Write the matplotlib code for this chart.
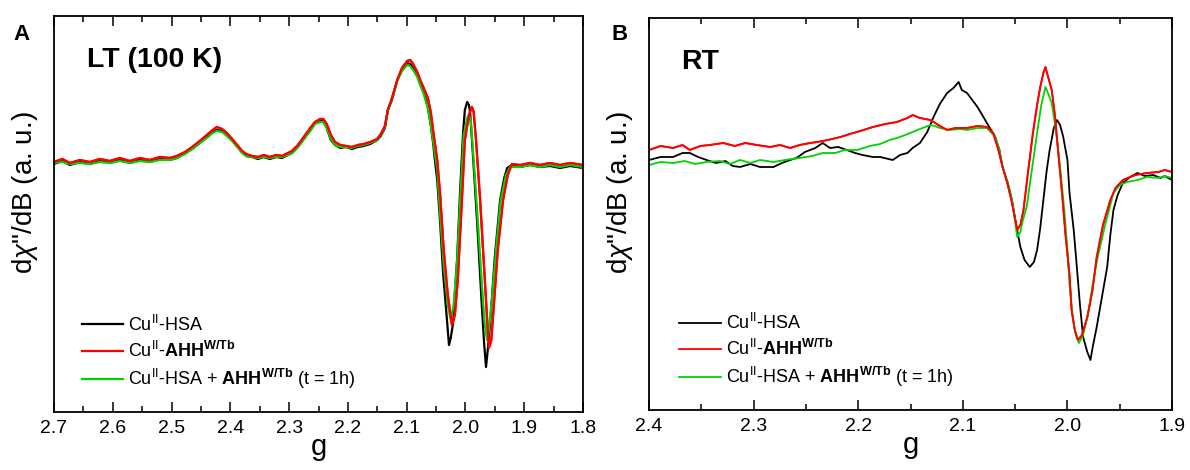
import matplotlib
matplotlib.use("Agg")
import matplotlib.pyplot as plt
from matplotlib.ticker import MultipleLocator

plt.rcParams["font.family"] = ["Liberation Sans", "DejaVu Sans"]
plt.rcParams["mathtext.fontset"] = "custom"
plt.rcParams["mathtext.rm"] = "Liberation Sans"
plt.rcParams["mathtext.it"] = "Liberation Sans:italic"
plt.rcParams["mathtext.bf"] = "Liberation Sans:bold"

# --- panel A: low temperature (100 K) -------------------------------------
lt_g_hsa = [2.700, 2.686, 2.673, 2.656, 2.639, 2.622, 2.605, 2.588, 2.571, 2.554, 2.537, 2.520, 2.503, 2.491,
            2.477, 2.465, 2.452, 2.438, 2.430, 2.423, 2.414, 2.406, 2.397, 2.387, 2.380, 2.373, 2.363, 2.353,
            2.343, 2.333, 2.322, 2.312, 2.302, 2.295, 2.285, 2.275, 2.264, 2.256, 2.247, 2.242, 2.236, 2.229,
            2.222, 2.213, 2.203, 2.193, 2.183, 2.173, 2.162, 2.150, 2.144, 2.137, 2.132, 2.125, 2.116, 2.108,
            2.099, 2.094, 2.089, 2.082, 2.077, 2.071, 2.064, 2.059, 2.055, 2.052, 2.048, 2.043, 2.038, 2.031,
            2.028, 2.025, 2.021, 2.014, 2.009, 2.004, 2.001, 1.997, 1.994, 1.992, 1.987, 1.980, 1.972, 1.968,
            1.965, 1.962, 1.958, 1.950, 1.941, 1.934, 1.929, 1.921, 1.907, 1.890, 1.873, 1.856, 1.839, 1.822, 1.800]
lt_hsa = [-1, 2, -2, 1, -1, 2, 0, 3, 0, 3, 1, 4, 3, 5,
          10, 14, 20, 27, 31, 33, 32, 29, 23, 16, 11, 7, 6, 4,
          6, 4, 6, 5, 8, 10, 16, 24, 33, 40, 42, 43, 35, 23,
          18, 15, 16, 14, 16, 17, 19, 23, 27, 35, 53, 63, 83, 93,
          100, 99, 95, 88, 80, 71, 56, 38, 20, 3, -17, -60, -110, -160,
          -182, -175, -160, -94, -27, 30, 53, 61, 58, 50, 6, -60, -144, -182,
          -204, -187, -160, -94, -37, -15, -5, -2, -4, -2, -4, -3, -5, -3, -5]

lt_g_ahh = [2.700, 2.686, 2.673, 2.656, 2.639, 2.622, 2.605, 2.588, 2.571, 2.554, 2.537, 2.520, 2.503, 2.491,
            2.477, 2.465, 2.452, 2.438, 2.430, 2.423, 2.414, 2.406, 2.397, 2.387, 2.380, 2.373, 2.363, 2.353,
            2.343, 2.333, 2.322, 2.312, 2.302, 2.295, 2.285, 2.275, 2.264, 2.256, 2.247, 2.242, 2.236, 2.229,
            2.222, 2.213, 2.203, 2.193, 2.183, 2.173, 2.162, 2.150, 2.144, 2.137, 2.132, 2.125, 2.116, 2.108,
            2.099, 2.094, 2.089, 2.082, 2.077, 2.071, 2.064, 2.059, 2.054, 2.048, 2.043, 2.037, 2.030, 2.023,
            2.018, 2.013, 2.006, 2.001, 1.994, 1.989, 1.986, 1.982, 1.975, 1.968, 1.963, 1.960, 1.956, 1.951,
            1.945, 1.936, 1.928, 1.921, 1.907, 1.890, 1.873, 1.856, 1.839, 1.822, 1.800]
lt_ahh = [1, 4, 0, 3, 1, 4, 2, 5, 2, 5, 3, 6, 5, 7,
          11, 16, 22, 29, 33, 36, 34, 30, 24, 17, 12, 9, 7, 6,
          8, 6, 8, 7, 10, 12, 18, 26, 35, 41, 44, 44, 39, 28,
          21, 18, 17, 16, 18, 19, 21, 24, 29, 37, 53, 65, 83, 95,
          102, 103, 99, 91, 83, 75, 65, 51, 28, 3, -32, -87, -132, -162,
          -152, -117, -37, 23, 48, 56, 51, 23, -37, -107, -157, -185, -177, -137,
          -87, -37, -12, -1, -2, 0, -2, 0, -2, 0, -2]

lt_g_mix = [2.700, 2.686, 2.673, 2.656, 2.639, 2.622, 2.605, 2.588, 2.571, 2.554, 2.537, 2.520, 2.503, 2.491,
            2.477, 2.465, 2.452, 2.438, 2.430, 2.423, 2.414, 2.406, 2.397, 2.387, 2.380, 2.373, 2.363, 2.353,
            2.343, 2.333, 2.322, 2.312, 2.302, 2.295, 2.285, 2.275, 2.264, 2.256, 2.247, 2.242, 2.236, 2.229,
            2.222, 2.213, 2.203, 2.193, 2.183, 2.173, 2.162, 2.150, 2.144, 2.137, 2.132, 2.125, 2.116, 2.108,
            2.099, 2.094, 2.089, 2.082, 2.077, 2.071, 2.064, 2.059, 2.054, 2.048, 2.043, 2.037, 2.030, 2.025,
            2.020, 2.014, 2.008, 2.003, 1.997, 1.994, 1.991, 1.986, 1.979, 1.972, 1.967, 1.963, 1.960, 1.955,
            1.948, 1.940, 1.931, 1.924, 1.907, 1.890, 1.873, 1.856, 1.839, 1.822, 1.800]
lt_mix = [0, 1, -1, 0, -1, 1, 0, 2, 0, 2, 1, 3, 3, 5,
          9, 14, 20, 26, 30, 32, 31, 27, 22, 15, 10, 7, 6, 5,
          6, 5, 6, 6, 8, 10, 16, 24, 32, 39, 41, 41, 35, 24,
          18, 16, 16, 15, 17, 18, 20, 23, 28, 36, 53, 64, 82, 92,
          98, 97, 93, 86, 78, 69, 55, 38, 18, -7, -52, -102, -142, -157,
          -142, -97, -27, 28, 45, 48, 43, 3, -57, -122, -162, -177, -167, -137,
          -87, -37, -12, -4, -4, -2, -4, -2, -4, -2, -4]

# --- panel B: room temperature ---------------------------------------------
rt_g_hsa = [2.400, 2.389, 2.377, 2.368, 2.361, 2.353, 2.345, 2.336, 2.327, 2.320, 2.313, 2.303, 2.294, 2.281,
            2.273, 2.265, 2.259, 2.251, 2.241, 2.234, 2.227, 2.219, 2.211, 2.203, 2.196, 2.186, 2.179, 2.167,
            2.160, 2.153, 2.148, 2.141, 2.134, 2.128, 2.122, 2.115, 2.109, 2.104, 2.101, 2.096, 2.091, 2.086,
            2.082, 2.077, 2.073, 2.069, 2.065, 2.062, 2.057, 2.053, 2.049, 2.045, 2.041, 2.036, 2.032, 2.029,
            2.026, 2.023, 2.020, 2.017, 2.013, 2.010, 2.007, 2.004, 2.000, 1.998, 1.994, 1.991, 1.988, 1.985,
            1.981, 1.978, 1.976, 1.972, 1.967, 1.962, 1.959, 1.956, 1.952, 1.947, 1.940, 1.933, 1.926, 1.918,
            1.911, 1.907, 1.900]
rt_hsa = [3, 6, 6, 10, 10, 6, 3, 0, 2, -3, -4, -1, -4, -4,
          0, 3, 5, 11, 15, 20, 15, 16, 13, 10, 8, 6, 6, 3,
          8, 10, 15, 20, 31, 46, 59, 70, 75, 81, 73, 70, 63, 56,
          49, 40, 33, 26, 13, -4, -20, -37, -62, -84, -97, -104, -99, -87,
          -65, -37, -9, 13, 35, 43, 38, 26, 3, -30, -67, -104, -142, -174,
          -189, -197, -185, -164, -134, -104, -72, -47, -32, -20, -14, -10, -13, -12,
          -15, -13, -17]

rt_g_ahh = [2.400, 2.389, 2.377, 2.368, 2.361, 2.351, 2.342, 2.329, 2.318, 2.308, 2.297, 2.284, 2.275, 2.265,
            2.256, 2.246, 2.239, 2.229, 2.217, 2.208, 2.198, 2.186, 2.174, 2.163, 2.153, 2.148, 2.141, 2.131,
            2.122, 2.115, 2.107, 2.096, 2.086, 2.077, 2.071, 2.066, 2.062, 2.057, 2.053, 2.048, 2.045, 2.042,
            2.038, 2.033, 2.029, 2.026, 2.023, 2.021, 2.019, 2.015, 2.012, 2.009, 2.005, 2.002, 1.998, 1.996,
            1.993, 1.990, 1.986, 1.981, 1.976, 1.972, 1.966, 1.959, 1.954, 1.947, 1.935, 1.924, 1.913, 1.907,
            1.900]
rt_ahh = [13, 17, 15, 18, 13, 17, 18, 20, 17, 20, 18, 16, 18, 15,
          18, 20, 21, 23, 26, 29, 32, 36, 39, 41, 45, 48, 45, 43,
          37, 33, 35, 35, 37, 36, 30, 13, -4, -22, -40, -67, -62, -47,
          -12, 30, 58, 76, 90, 96, 88, 73, 48, 13, -32, -70, -112, -147,
          -167, -177, -172, -154, -127, -94, -62, -37, -25, -17, -12, -10, -9, -7,
          -9]

rt_g_mix = [2.400, 2.389, 2.377, 2.366, 2.356, 2.345, 2.332, 2.323, 2.313, 2.303, 2.294, 2.281, 2.270, 2.256,
            2.244, 2.234, 2.222, 2.213, 2.201, 2.189, 2.179, 2.170, 2.163, 2.155, 2.148, 2.141, 2.131, 2.127,
            2.122, 2.112, 2.103, 2.096, 2.086, 2.077, 2.069, 2.065, 2.062, 2.057, 2.053, 2.050, 2.048, 2.045,
            2.043, 2.039, 2.034, 2.029, 2.025, 2.021, 2.019, 2.015, 2.011, 2.007, 2.003, 2.000, 1.998, 1.995,
            1.992, 1.989, 1.985, 1.980, 1.976, 1.971, 1.964, 1.956, 1.950, 1.943, 1.933, 1.924, 1.913, 1.907,
            1.900]
rt_mix = [-2, 1, 0, 2, -1, 1, 2, -1, 3, 0, 3, 1, 3, 5,
          7, 10, 10, 13, 13, 17, 19, 23, 25, 28, 31, 34, 38, 37,
          35, 33, 34, 33, 35, 35, 26, 13, -4, -20, -37, -59, -74, -69,
          -59, -44, -7, 30, 58, 76, 71, 60, 33, -4, -47, -87, -122, -154,
          -172, -180, -172, -150, -122, -94, -62, -30, -22, -19, -17, -14, -15, -13,
          -15]

labels = [r"Cu$^{\mathrm{II}}$-HSA",
          r"Cu$^{\mathrm{II}}$-$\mathbf{AHH}^{\mathbf{W/Tb}}$",
          r"Cu$^{\mathrm{II}}$-HSA + $\mathbf{AHH}^{\mathbf{W/Tb}}$ (t = 1h)"]
colors = ["#000000", "#ff0000", "#00d400"]

fig = plt.figure(figsize=(11.9, 4.7), dpi=100)
axA = fig.add_axes([0.0454, 0.1234, 0.4445, 0.8426])
axB = fig.add_axes([0.5454, 0.1277, 0.4395, 0.834])

panels = [
    (axA, [(lt_g_hsa, lt_hsa), (lt_g_ahh, lt_ahh), (lt_g_mix, lt_mix)], (2.7, 1.8), (-249, 147),
     "LT (100 K)", 1.6, 0.039, -0.026),
    (axB, [(rt_g_hsa, rt_hsa), (rt_g_ahh, rt_ahh), (rt_g_mix, rt_mix)], (2.4, 1.9), (-247, 145),
     "RT", 1.3, 0.0435, -0.027),
]

for ax, curves, xlim, ylim, title, lw, legx, laby in panels:
    handles = []
    for (g, y), c, lab in zip(curves, colors, labels):
        h, = ax.plot(g, y, color=c, lw=lw, label=lab)
        handles.append(h)
    # redraw red on top, as in the original
    ax.plot(curves[1][0], curves[1][1], color=colors[1], lw=lw)
    ax.set_xlim(*xlim)
    ax.set_ylim(*ylim)
    ax.xaxis.set_major_locator(MultipleLocator(0.1))
    ax.xaxis.set_minor_locator(MultipleLocator(0.05))
    ax.xaxis.set_major_formatter(plt.FormatStrFormatter("%.1f"))
    ax.tick_params(axis="x", which="both", direction="in", top=True, labelsize=14, pad=6)
    ax.tick_params(axis="x", which="major", length=7, width=1.1)
    ax.tick_params(axis="x", which="minor", length=4.5, width=1.1)
    ax.set_yticks([])
    for s in ax.spines.values():
        s.set_linewidth(1.3)
    ax.set_xlabel("g", fontsize=21, labelpad=-3)
    ax.set_ylabel(r'd$\chi$"/dB (a. u.)', fontsize=20)
    ax.yaxis.set_label_coords(laby, 0.555)
    ax.text(0.062, 0.889, title, transform=ax.transAxes, fontsize=20.5, fontweight="bold", va="center")
    ax.legend(handles=handles, loc="lower left", bbox_to_anchor=(legx, 0.035), frameon=False,
              fontsize=13, handlelength=2.3, handletextpad=0.28, labelspacing=0.33, borderaxespad=0)

fig.text(0.011, 1 - 35 / 470, "A", fontsize=16, fontweight="bold", va="center")
fig.text(0.514, 1 - 35 / 470, "B", fontsize=16, fontweight="bold", va="center")

fig.savefig("out.png", dpi=100, facecolor="white")
